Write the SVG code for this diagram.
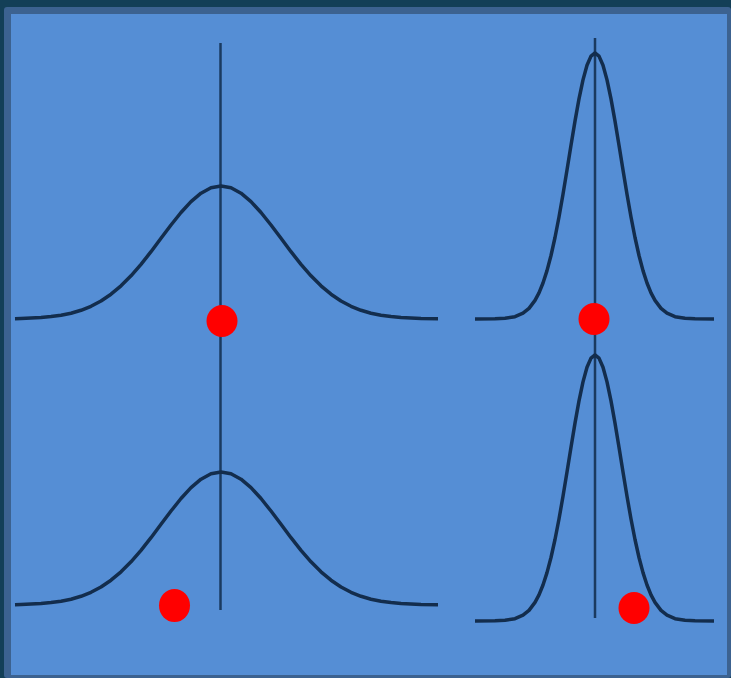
<svg xmlns="http://www.w3.org/2000/svg" xmlns:xlink="http://www.w3.org/1999/xlink" width="731" height="678" viewBox="0 0 731 678">
<style>
.curve{fill:none;stroke:#132d4d;stroke-width:3.5;stroke-linejoin:round;stroke-linecap:butt}
.axis{stroke:#1a3a60;stroke-width:2.5}
.dot{fill:#ff0000}
</style>
<defs>
<path id="wide" d="M-206,-0.3 L-200,-0.5 L-190,-0.9 L-180,-1.5 L-170,-2.4 L-160,-3.8 L-150,-5.8 L-140,-8.7 L-130,-12.7 L-120,-18 L-110,-24.8 L-100,-33.2 L-90,-43.2 L-80,-54.7 L-70,-67.3 L-60,-80.7 L-50,-94 L-40,-106.5 L-30,-117.4 L-20,-125.8 L-10,-131.2 L0,-133 L10,-131.2 L20,-125.8 L30,-117.4 L40,-106.5 L50,-94 L60,-80.7 L70,-67.3 L80,-54.7 L90,-43.2 L100,-33.2 L110,-24.8 L120,-18 L130,-12.7 L140,-8.7 L150,-5.8 L160,-3.8 L170,-2.4 L180,-1.5 L190,-0.9 L200,-0.5 L217,-0.2"/>
<path id="narrow" d="M-120,0 L-100,-0.2 L-90,-0.7 L-80,-2.3 L-72,-5.8 L-66,-10.6 L-60,-18.6 L-56,-26.1 L-52,-36 L-48,-48.4 L-44,-63.5 L-40,-81.5 L-36,-102 L-32,-124.7 L-28,-149 L-24,-173.7 L-20,-197.9 L-16,-220.1 L-12,-239.1 L-8,-253.7 L-4,-262.9 L0,-266 L4,-262.9 L8,-253.7 L12,-239.1 L16,-220.1 L20,-197.9 L24,-173.7 L28,-149 L32,-124.7 L36,-102 L40,-81.5 L44,-63.5 L48,-48.4 L52,-36 L56,-26.1 L60,-18.6 L66,-10.6 L72,-5.8 L80,-2.3 L90,-0.7 L100,-0.2 L119,0"/>
</defs>
<rect x="0" y="0" width="731" height="678" fill="#133f57"/>
<rect x="4" y="7" width="727" height="671" rx="3" fill="#3c6290"/>
<rect x="11" y="14" width="716" height="661" fill="#558ed5"/>
<g id="connectors">
<line class="axis" x1="220.5" y1="43" x2="220.5" y2="610"/>
<line class="axis" x1="595" y1="38" x2="595" y2="618"/>
</g>
<g id="curve-top-left"><use xlink:href="#wide" class="curve" transform="translate(221,319)"/></g>
<g id="curve-bottom-left"><use xlink:href="#wide" class="curve" transform="translate(221,605)"/></g>
<g id="curve-top-right"><use xlink:href="#narrow" class="curve" transform="translate(595,319)"/></g>
<g id="curve-bottom-right"><use xlink:href="#narrow" class="curve" transform="translate(595,621)"/></g>
<g id="dot-top-left"><ellipse class="dot" cx="222" cy="321" rx="15.5" ry="16"/></g>
<g id="dot-top-right"><ellipse class="dot" cx="594" cy="319" rx="15.5" ry="16"/></g>
<g id="dot-bottom-left"><ellipse class="dot" cx="174.5" cy="605.5" rx="15.5" ry="16.5"/></g>
<g id="dot-bottom-right"><ellipse class="dot" cx="634" cy="608" rx="15.5" ry="16"/></g>
</svg>
